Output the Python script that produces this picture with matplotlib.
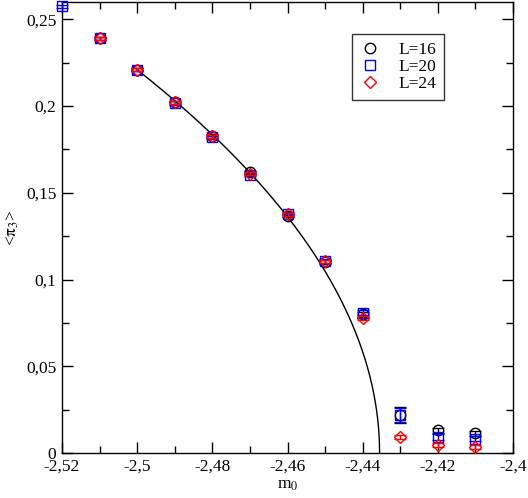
import numpy as np
import matplotlib
matplotlib.use("Agg")
import matplotlib.pyplot as plt
from matplotlib.ticker import MultipleLocator, FuncFormatter
from matplotlib.lines import Line2D

plt.rcParams['font.family'] = ['Liberation Serif', 'DejaVu Serif']
plt.rcParams['mathtext.fontset'] = 'stix'

# data
m0_16 = [-2.51, -2.50, -2.49, -2.48, -2.47, -2.46, -2.45, -2.44, -2.43, -2.42, -2.41]
pi_16 = [0.239, 0.221, 0.2022, 0.1828, 0.1618, 0.1368, 0.1100, 0.0800, 0.0220, 0.0132, 0.0113]
err_16 = [0.001, 0.001, 0.001, 0.001, 0.001, 0.001, 0.001, 0.0015, 0.0047, 0.0015, 0.0015]

m0_20 = [-2.52, -2.51, -2.50, -2.49, -2.48, -2.47, -2.46, -2.45, -2.44, -2.43, -2.42, -2.41]
pi_20 = [0.2575, 0.239, 0.221, 0.2018, 0.1820, 0.1605, 0.1380, 0.1108, 0.0808, 0.0220, 0.0092, 0.0083]
err_20 = [0.001, 0.001, 0.001, 0.001, 0.001, 0.001, 0.001, 0.001, 0.0015, 0.0040, 0.0015, 0.0015]

m0_24 = [-2.51, -2.50, -2.49, -2.48, -2.47, -2.46, -2.45, -2.44, -2.43, -2.42, -2.41]
pi_24 = [0.239, 0.221, 0.2022, 0.1825, 0.1610, 0.1375, 0.1105, 0.0778, 0.0090, 0.0048, 0.0036]
err_24 = [0.001, 0.001, 0.001, 0.001, 0.001, 0.001, 0.001, 0.0012, 0.0012, 0.0012, 0.0012]

labels = ['L=16', 'L=20', 'L=24']

# fit curve parameters: A * (mc - m0)^beta
fit_A = 0.87
fit_mc = -2.4355
fit_beta = 0.5
fit_start = -2.50

fig = plt.figure(figsize=(5.28, 4.98), dpi=100)
ax = fig.add_axes([62/528, 1-453/498, (513-62)/528, (453-2)/498])

mfit = np.linspace(fit_start, fit_mc, 2000)
ax.plot(mfit, fit_A * np.clip(fit_mc - mfit, 0, None) ** fit_beta, color='black', lw=1.0, zorder=1)

styles = [('o', 'black', 7.5), ('s', 'blue', 6.5), ('D', 'red', 6.0)]
series = [(m0_16, pi_16, err_16), (m0_20, pi_20, err_20), (m0_24, pi_24, err_24)]
handles = []
for (mk, col, ms), (xs, ys, es), lab, z in zip(styles, series, labels, [3, 4, 5]):
    ax.errorbar(xs, ys, yerr=es, fmt=mk, mfc='none', mec=col, ecolor=col,
                ms=ms, mew=1.0, capsize=4, elinewidth=1.0, capthick=1.0, zorder=z, clip_on=False)
    handles.append(Line2D([], [], ls='none', marker=mk, mfc='none', mec=col, ms=ms, mew=1.0, label=lab))

ax.set_xlim(-2.52, -2.40)
ax.set_ylim(0, 0.26)

ax.xaxis.set_major_locator(MultipleLocator(0.02))
ax.xaxis.set_minor_locator(MultipleLocator(0.01))
ax.yaxis.set_major_locator(MultipleLocator(0.05))
ax.yaxis.set_minor_locator(MultipleLocator(0.025))

def fmt(v, pos):
    s = ('%.3f' % v).rstrip('0').rstrip('.')
    if s in ('-0', '0'):
        s = '0'
    return s.replace('.', ',')
ax.xaxis.set_major_formatter(FuncFormatter(fmt))
ax.yaxis.set_major_formatter(FuncFormatter(fmt))

ax.tick_params(which='both', direction='in', top=True, right=True, labelsize=12.5, pad=4)
ax.tick_params(which='major', length=8, width=1.0)
ax.tick_params(which='minor', length=5, width=1.0)
for sp in ax.spines.values():
    sp.set_linewidth(1.0)

ax.set_xlabel(r'm$_0$', fontsize=12.5, labelpad=2)
ax.set_ylabel(r'<$\mathrm{\pi}_3$>', fontsize=12.5, labelpad=4)

leg = ax.legend(handles=handles, loc='upper left', bbox_to_anchor=((352-62)/451, 1-(34-2)/451),
                fontsize=12.5, frameon=True, fancybox=False, edgecolor='black', handlelength=1.2,
                handletextpad=1.0, borderpad=0.45, labelspacing=0.05, borderaxespad=0)
leg.get_frame().set_linewidth(1.0)

fig.savefig('out.png', dpi=100)
